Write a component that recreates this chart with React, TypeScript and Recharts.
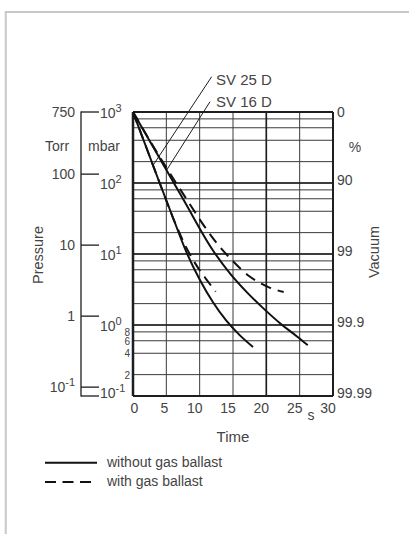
import React from 'react';
import { LineChart, Line, XAxis, YAxis, ReferenceLine } from 'recharts';

const W = 409;
const H = 534;
const FONT = '"Liberation Sans", Arial, Helvetica, sans-serif';
const INK = '#1e1e1e';
const GRID = '#3a3a3a';
const TEXT = '#444';
const MBAR_PER_TORR = 1.33322;

// axis values
const timeTicks = [0, 5, 10, 15, 20, 25, 30];
const gridPressures = [0.1, 0.2, 0.4, 0.6, 0.8, 1, 2, 4, 6, 8, 10, 20, 40, 60, 80, 100, 200, 400, 600, 800, 1000];
const heavyPressures = [0.1, 1, 10, 100, 1000];
const heavyTimes = [0, 20, 30];
const mbarTicks = [1000, 100, 10, 1, 0.1];
const minorMbarLabels = [0.8, 0.6, 0.4, 0.2];
const torrTicks = [750, 100, 10, 1, 0.1];
const torrLabels = ['750', '100', '10', '1', '10'];
const vacuumTicks = [1000, 100, 10, 1, 0.1];
const vacuumLabels = ['0', '90', '99', '99.9', '99.99'];

// pump-down curves, time in s, pressure in mbar
const sv25Without = [
  { t: 0, p: 1000 }, { t: 2, p: 316 }, { t: 4, p: 100 }, { t: 6, p: 32.4 }, { t: 8, p: 10.7 },
  { t: 10, p: 4.37 }, { t: 12, p: 2.09 }, { t: 14, p: 1.15 }, { t: 16, p: 0.72 }, { t: 18, p: 0.49 },
];
const sv25With = [
  { t: 0, p: 1000 }, { t: 2, p: 316 }, { t: 4, p: 100 }, { t: 6, p: 32.4 }, { t: 7, p: 19.5 },
  { t: 8, p: 12.3 }, { t: 9, p: 8.3 }, { t: 10, p: 5.9 }, { t: 11, p: 4.4 }, { t: 12, p: 3.3 }, { t: 12.4, p: 2.95 },
];
const sv16Without = [
  { t: 0, p: 1000 }, { t: 4, p: 224 }, { t: 7.6, p: 57.5 }, { t: 12, p: 11.2 }, { t: 14.6, p: 5.25 },
  { t: 17.1, p: 2.88 }, { t: 19.6, p: 1.7 }, { t: 22.1, p: 1.05 }, { t: 24.6, p: 0.69 }, { t: 26.2, p: 0.52 },
];
const sv16With = [
  { t: 0, p: 1000 }, { t: 4, p: 234 }, { t: 8.6, p: 49 }, { t: 10.4, p: 27 }, { t: 12.6, p: 14.1 },
  { t: 14.9, p: 8.1 }, { t: 17.4, p: 4.9 }, { t: 19.4, p: 3.76 }, { t: 20.4, p: 3.39 }, { t: 22.6, p: 2.92 },
];

// leader lines for the curve labels
const sv25Leader = [{ x: 11.8, y: 3140 }, { x: 3.05, y: 180 }];
const sv16Leader = [{ x: 11.55, y: 1396 }, { x: 5.05, y: 152 }];

const textProps = { fontFamily: FONT, fill: TEXT };

const TimeTick = ({ x, payload }: any) => {
  const v = payload.value;
  const dx = v === 0 ? 1.5 : v < 10 ? -2 : -5;
  return (
    <text x={x + dx} y={408} textAnchor="middle" dominantBaseline="central" fontSize={14} {...textProps}>
      {v}
    </text>
  );
};

const MbarTick = ({ y, payload }: any) => {
  const v = payload.value;
  if (minorMbarLabels.includes(v)) {
    return (
      <text x={130} y={y + 0.5} textAnchor="end" dominantBaseline="central" fontSize={10} {...textProps}>
        {Math.round(v * 10)}
      </text>
    );
  }
  const exp = Math.round(Math.log10(v));
  const dy = v === 0.1 ? -3 : 1;
  return (
    <g>
      {v === 0.1 && <line x1={81} x2={99} y1={y} y2={y} stroke={INK} strokeWidth={1.3} />}
      <text x={100} y={y + dy} dominantBaseline="central" fontSize={14} {...textProps}>
        10<tspan dy={-5} fontSize={11}>{exp}</tspan>
      </text>
    </g>
  );
};

const TorrTick = ({ y, payload }: any) => {
  const v = payload.value;
  const i = torrTicks.indexOf(v);
  return (
    <g>
      <line x1={81} x2={99} y1={y} y2={y} stroke={INK} strokeWidth={1.3} />
      <text x={75} y={y} textAnchor="end" dominantBaseline="central" fontSize={14} {...textProps}>
        {torrLabels[i]}
        {v === 0.1 && <tspan dy={-5} fontSize={11}>-1</tspan>}
      </text>
    </g>
  );
};

const VacTick = ({ y, payload }: any) => {
  const v = payload.value;
  const i = vacuumTicks.indexOf(v);
  return (
    <text x={337} y={v === 1000 ? y : y - 3} dominantBaseline="central" fontSize={14} {...textProps}>
      {vacuumLabels[i]}
    </text>
  );
};

export default function App() {
  return (
    <div style={{ position: 'absolute', left: 0, top: 0, width: W, height: H, background: '#fff' }}>
      <LineChart width={W} height={H} margin={{ top: 112, right: 16, bottom: 108, left: 73 }}>
        <XAxis
          dataKey="t"
          type="number"
          domain={[0, 30]}
          ticks={timeTicks}
          interval={0}
          height={30}
          axisLine={false}
          tickLine={false}
          tick={TimeTick}
          allowDataOverflow
        />
        <YAxis
          yAxisId="mbar"
          type="number"
          scale="log"
          domain={[0.1, 1000]}
          ticks={[...mbarTicks, ...minorMbarLabels]}
          interval={0}
          width={40}
          axisLine={false}
          tickLine={false}
          tick={MbarTick}
          allowDataOverflow
        />
        <YAxis
          yAxisId="torr"
          type="number"
          scale="log"
          domain={[0.1 / MBAR_PER_TORR, 1000 / MBAR_PER_TORR]}
          ticks={torrTicks}
          interval={0}
          width={20}
          axisLine={false}
          tickLine={false}
          tick={TorrTick}
          allowDataOverflow
        />
        <YAxis
          yAxisId="vac"
          orientation="right"
          type="number"
          scale="log"
          domain={[0.1, 1000]}
          ticks={vacuumTicks}
          interval={0}
          width={60}
          axisLine={false}
          tickLine={false}
          tick={VacTick}
          allowDataOverflow
        />

        {/* fine grid, drawn as segments so nothing clips it */}
        {gridPressures.map((p) => (
          <ReferenceLine
            key={`gh-${p}`}
            yAxisId="mbar"
            segment={[{ x: 0, y: p }, { x: 30, y: p }]}
            ifOverflow="visible"
            stroke={GRID}
            strokeWidth={1}
          />
        ))}
        {timeTicks.map((t) => (
          <ReferenceLine
            key={`gv-${t}`}
            yAxisId="mbar"
            segment={[{ x: t, y: 0.1 }, { x: t, y: 1000 }]}
            ifOverflow="visible"
            stroke={GRID}
            strokeWidth={1}
          />
        ))}
        {/* heavy grid lines */}
        {heavyPressures.map((p) => (
          <ReferenceLine
            key={`h-${p}`}
            yAxisId="mbar"
            y={p}
            ifOverflow="visible"
            stroke={INK}
            strokeWidth={p === 0.1 || p === 1000 ? 2 : 1.6}
          />
        ))}
        {heavyTimes.map((t) => (
          <ReferenceLine
            key={`v-${t}`}
            yAxisId="mbar"
            x={t}
            ifOverflow="visible"
            stroke={INK}
            strokeWidth={t === 0 ? 2.5 : t === 30 ? 2 : 1.6}
          />
        ))}

        <ReferenceLine yAxisId="mbar" segment={sv25Leader} stroke={INK} strokeWidth={1} ifOverflow="visible" />
        <ReferenceLine yAxisId="mbar" segment={sv16Leader} stroke={INK} strokeWidth={1} ifOverflow="visible" />

        <Line yAxisId="mbar" data={sv25Without} dataKey="p" type="monotone" stroke="#111" strokeWidth={2} dot={false} isAnimationActive={false} />
        <Line yAxisId="mbar" data={sv25With} dataKey="p" type="monotone" stroke="#111" strokeWidth={2} strokeDasharray="11 7" dot={false} isAnimationActive={false} />
        <Line yAxisId="mbar" data={sv16Without} dataKey="p" type="monotone" stroke="#111" strokeWidth={2} dot={false} isAnimationActive={false} />
        <Line yAxisId="mbar" data={sv16With} dataKey="p" type="monotone" stroke="#111" strokeWidth={2} strokeDasharray="11 7" dot={false} isAnimationActive={false} />
      </LineChart>

      <svg width={W} height={H} style={{ position: 'absolute', left: 0, top: 0, pointerEvents: 'none' }}>
        {/* frame */}
        <path d="M 409 12 H 5.75 V 534" fill="none" stroke="#c8c8c8" strokeWidth={2} />

        {/* torr axis line */}
        <line x1={81} x2={81} y1={111.5} y2={396.6} stroke={INK} strokeWidth={1.3} />

        <text x={57} y={146} textAnchor="middle" dominantBaseline="central" fontSize={14} {...textProps}>Torr</text>
        <text x={104} y={146} textAnchor="middle" dominantBaseline="central" fontSize={14} {...textProps}>mbar</text>
        <text x={355} y={147} textAnchor="middle" dominantBaseline="central" fontSize={14} {...textProps}>%</text>
        <text x={38} y={255} textAnchor="middle" dominantBaseline="central" fontSize={14.5} transform="rotate(-90 38 255)" {...textProps}>Pressure</text>
        <text x={374} y={252} textAnchor="middle" dominantBaseline="central" fontSize={14.5} transform="rotate(-90 374 252)" {...textProps}>Vacuum</text>
        <text x={233} y={436} textAnchor="middle" dominantBaseline="central" fontSize={15} {...textProps}>Time</text>
        <text x={311} y={415} textAnchor="middle" dominantBaseline="central" fontSize={14} {...textProps}>s</text>

        <text x={216} y={79} dominantBaseline="central" fontSize={15} {...textProps}>SV 25 D</text>
        <text x={216} y={101} dominantBaseline="central" fontSize={15} {...textProps}>SV 16 D</text>

        {/* legend */}
        <line x1={45} x2={97} y1={462.7} y2={462.7} stroke="#111" strokeWidth={2} />
        <text x={107} y={462} dominantBaseline="central" fontSize={14} {...textProps}>without gas ballast</text>
        <line x1={45} x2={97} y1={482} y2={482} stroke="#111" strokeWidth={2} strokeDasharray="11 6.5" />
        <text x={107} y={481} dominantBaseline="central" fontSize={14} {...textProps}>with gas ballast</text>
      </svg>
    </div>
  );
}
